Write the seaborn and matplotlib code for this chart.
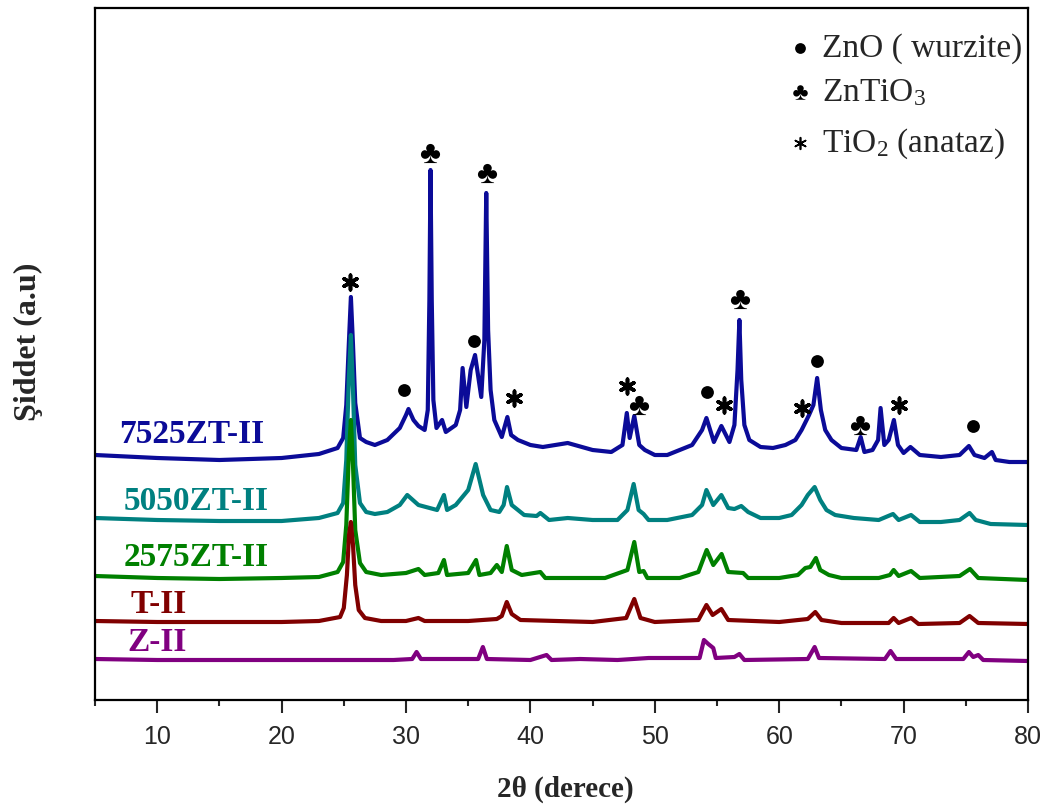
import numpy as np
import pandas as pd
import matplotlib
matplotlib.use("Agg")
import matplotlib.pyplot as plt
import seaborn as sns

# ---------------- data (2theta, intensity a.u.) ----------------
x_7525 = [5, 10, 15, 20, 23, 24.5, 24.95, 25.2, 25.4, 25.57, 25.74, 25.92, 26.3, 26.8, 27.5, 28.5, 29.5,
          30.0, 30.2, 30.6, 31.0, 31.5, 31.75, 31.88, 31.97, 32.07, 32.2, 32.45, 32.9, 33.2, 34.0, 34.35,
          34.55, 34.85, 35.2, 35.55, 36.05, 36.3, 36.45, 36.6, 36.8, 37.1, 37.7, 38.15, 38.45, 39, 40,
          41, 43, 45, 46.5, 47.4, 47.75, 47.98, 48.35, 48.75, 49.2, 50, 51, 52, 53, 53.8, 54.15, 54.75,
          55.35, 56.0, 56.4, 56.65, 56.8, 56.95, 57.2, 57.6, 58.5, 59.5, 60.5, 61.3, 61.8, 62.4, 62.75,
          63.05, 63.35, 63.7, 64.2, 65, 66.2, 66.55, 66.85, 67.5, 67.95, 68.15, 68.45, 68.8, 69.22, 69.55,
          70, 70.55, 71.3, 73, 74.5, 75.25, 75.7, 76.5, 77.1, 77.4, 78.5, 80]
y_7525 = [245, 242, 240, 242, 246, 252, 262, 295, 355, 403, 355, 297, 262, 258, 255, 260, 272,
          285, 291, 280, 274, 270, 290, 400, 530, 400, 300, 272, 280, 268, 275, 290,
          332, 293, 330, 345, 303, 360, 507, 370, 310, 280, 263, 283, 265, 260, 255,
          253, 257, 250, 248, 255, 287, 262, 284, 255, 250, 245, 245, 250, 255, 270, 282, 258,
          274, 258, 275, 330, 380, 320, 275, 260, 253, 252, 255, 260, 270, 285, 295,
          322, 290, 270, 260, 252, 250, 263, 248, 250, 260, 292, 255, 260, 280, 255,
          247, 253, 245, 243, 245, 254, 245, 242, 248, 240, 238, 238]

x_5050 = [5, 10, 15, 20, 23, 24.5, 24.95, 25.2, 25.4, 25.57, 25.74, 25.92, 26.3, 26.8, 27.5, 28.5, 29.5,
          30.1, 31.0, 32.5, 33.05, 33.3, 34.0, 35.0, 35.6, 36.2, 36.8, 37.5, 37.85, 38.12, 38.5, 39.5,
          40.5, 40.8, 41.5, 43, 45, 47, 47.8, 48.3, 48.7, 49.1, 49.5, 51, 53, 53.8, 54.15, 54.7, 55.35,
          55.9, 56.4, 56.95, 57.5, 58.5, 60, 61, 61.8, 62.3, 62.85, 63.3, 63.8, 64.5, 66, 68, 69.15,
          69.6, 70.6, 71.3, 73, 74.5, 75.3, 75.8, 77, 80]
y_5050 = [182, 180, 179, 179, 182, 187, 197, 240, 320, 365, 310, 235, 197, 188, 186, 188, 195,
          205, 195, 190, 205, 190, 195, 210, 236, 205, 190, 188, 195, 213, 195, 185,
          184, 187, 180, 182, 180, 180, 190, 216, 190, 186, 180, 180, 185, 195, 210, 195, 205,
          192, 191, 194, 188, 182, 182, 185, 195, 205, 213, 200, 190, 185, 182, 180, 186,
          180, 185, 178, 178, 180, 187, 180, 176, 175]

x_2575 = [5, 10, 15, 20, 23, 24.5, 24.95, 25.2, 25.4, 25.57, 25.74, 25.92, 26.3, 26.8, 28, 30, 31.0,
          31.5, 32.6, 33.05, 33.3, 35, 35.63, 35.9, 36.8, 37.3, 37.7, 38.1, 38.5, 39.3, 40.8, 41.2, 43,
          46, 47.8, 48.35, 48.75, 49.1, 49.4, 52, 53.5, 54.17, 54.7, 55.37, 55.9, 57.1, 57.5, 60, 61.5,
          62.1, 62.5, 62.95, 63.3, 64, 65, 68, 68.9, 69.2, 69.6, 70.6, 71.3, 74.5, 75.34, 76, 80]
y_2575 = [124, 122, 121, 122, 123, 128, 138, 175, 245, 280, 235, 170, 137, 128, 125, 127, 131,
          125, 127, 140, 125, 127, 140, 125, 127, 135, 128, 154, 130, 125, 128, 122, 122,
          122, 130, 158, 128, 129, 122, 122, 128, 150, 135, 146, 128, 127, 122, 122, 125,
          132, 133, 142, 130, 125, 122, 122, 125, 130, 124, 129, 122, 124, 131, 122, 120]

x_T = [5, 10, 20, 23, 24.7, 25.0, 25.25, 25.42, 25.57, 25.74, 25.92, 26.2, 26.7, 28, 30, 31.0, 31.5,
       35, 37.3, 37.7, 38.1, 38.5, 39.2, 45, 47.7, 48.35, 48.85, 50, 53.5, 54.15, 54.65, 55.35, 55.9,
       60, 62.3, 62.9, 63.4, 65, 68.8, 69.2, 69.6, 70.6, 71.2, 74.5, 75.3, 76, 80]
y_T = [79, 78, 78, 79, 83, 92, 125, 165, 178, 155, 115, 90, 82, 79, 79, 82, 79,
       79, 81, 84, 98, 86, 80, 78, 82, 101, 82, 78, 80, 95, 85, 91, 80,
       78, 81, 88, 80, 77, 77, 82, 77, 82, 76, 77, 84, 77, 76]

x_Z = [5, 10, 20, 24, 29, 30.5, 30.85, 31.2, 35.8, 36.18, 36.5, 40, 41.3, 41.7, 44, 47, 49.5, 53.6,
       53.95, 54.3, 54.7, 54.9, 56.4, 56.8, 57.2, 62.3, 62.85, 63.2, 68.5, 68.95, 69.4, 74.8, 75.25,
       75.6, 76.0, 76.4, 80]
y_Z = [41, 40, 40, 40, 40, 41, 48, 41, 41, 53, 41, 40, 45, 40, 41, 40, 42, 42,
       60, 56, 52, 42, 43, 46, 40, 41, 53, 42, 41, 49, 41, 41, 48,
       43, 45, 40, 39]

series_names = ["7525ZT-II", "5050ZT-II", "2575ZT-II", "T-II", "Z-II"]
series_x = [x_7525, x_5050, x_2575, x_T, x_Z]
series_y = [y_7525, y_5050, y_2575, y_T, y_Z]
series_colors = ["#0B0B98", "#008080", "#008000", "#800000", "#800080"]
label_x = [12.76, 13.12, 13.12, 10.14, 10.02]
label_y = [257, 190, 134, 87, 49]

# phase markers (2theta, intensity)
zno_x = [29.84, 35.49, 54.17, 63.01, 75.60]
zno_y = [310, 359, 308, 339, 274]
zti_x = [31.93, 36.54, 48.71, 56.85, 66.50]
zti_y = [547, 527, 295, 401, 275]
tio_x = [25.50, 38.71, 47.79, 55.59, 61.86, 69.63]
tio_y = [418, 302, 314, 295, 292, 295]

xticks_major = [10, 20, 30, 40, 50, 60, 70, 80]

# ---------------- style ----------------
sns.set_style("ticks")
plt.rcParams["font.family"] = ["Liberation Serif", "DejaVu Sans"]
plt.rcParams["mathtext.fontset"] = "custom"
plt.rcParams["mathtext.rm"] = "Liberation Serif"
plt.rcParams["mathtext.it"] = "Liberation Serif:italic"
plt.rcParams["mathtext.bf"] = "Liberation Serif:bold"

fig = plt.figure(figsize=(10.52, 8.09), dpi=100)
ax = fig.add_axes([95 / 1052, 109 / 809, 933 / 1052, 692 / 809])

for name, xs, ys, c in zip(series_names, series_x, series_y, series_colors):
    df = pd.DataFrame({"x": xs, "y": ys})
    sns.lineplot(data=df, x="x", y="y", color=c, lw=3.0, ax=ax, sort=False, legend=False)

for name, lx, ly, c in zip(series_names, label_x, label_y, series_colors):
    ax.text(lx, ly, name, color=c, fontsize=24, fontweight="bold", ha="center", va="baseline",
            family="Liberation Serif")

# phase markers
ax.scatter(zno_x, zno_y, marker="o", s=85, c="black", zorder=5, linewidths=0)
ax.scatter(zti_x, zti_y, marker=r"$\clubsuit$", s=190, c="black", zorder=5, linewidths=0)
ax.scatter(tio_x, tio_y, marker=(6, 2, 0), s=110, c="black", zorder=5, linewidths=2.6)

ax.set_xlim(5, 80)
ax.set_ylim(0, 692)
ax.set_yticks([])
ax.set_xticks(xticks_major)
ax.set_xticks(np.arange(5, 81, 10), minor=True)
ax.set_xticklabels([str(t) for t in xticks_major])
for lab in ax.get_xticklabels():
    lab.set_family(["Liberation Sans"])
    lab.set_fontsize(18)
ax.tick_params(axis="x", which="major", direction="out", length=9, width=1.5, pad=9)
ax.tick_params(axis="x", which="minor", direction="out", length=4.5, width=1.5)
for sp in ax.spines.values():
    sp.set_visible(True)
    sp.set_linewidth(1.6)
    sp.set_color("black")

ax.set_xlabel("2θ (derece)", fontsize=21, fontweight="bold", family="Liberation Serif")
ax.xaxis.set_label_coords(0.504, -0.11)
ax.xaxis.label.set_va("top")
ax.set_ylabel("Şiddet (a.u)", fontsize=23, fontweight="bold", family="Liberation Serif")
ax.yaxis.set_label_coords(-0.0557, 0.518)

# legend (manual, top right)
leg_mx = 0.7556
leg_tx = 0.7792
leg_y = [0.929, 0.8656, 0.7919]
leg_txt = ["ZnO ( wurzite)", r"ZnTiO$_3$", r"TiO$_2$ (anataz)"]
ax.scatter([leg_mx], [0.942], transform=ax.transAxes, marker="o", s=60, c="black", linewidths=0, clip_on=False)
ax.scatter([leg_mx], [0.8786], transform=ax.transAxes, marker=r"$\clubsuit$", s=110, c="black", linewidths=0, clip_on=False)
ax.scatter([leg_mx], [0.805], transform=ax.transAxes, marker=(6, 2, 0), s=70, c="black", linewidths=1.2, clip_on=False)
for ty, t in zip(leg_y, leg_txt):
    ax.text(leg_tx, ty, t, transform=ax.transAxes, fontsize=24, ha="left", va="baseline",
            family="Liberation Serif")

fig.savefig("out.png", dpi=100)
